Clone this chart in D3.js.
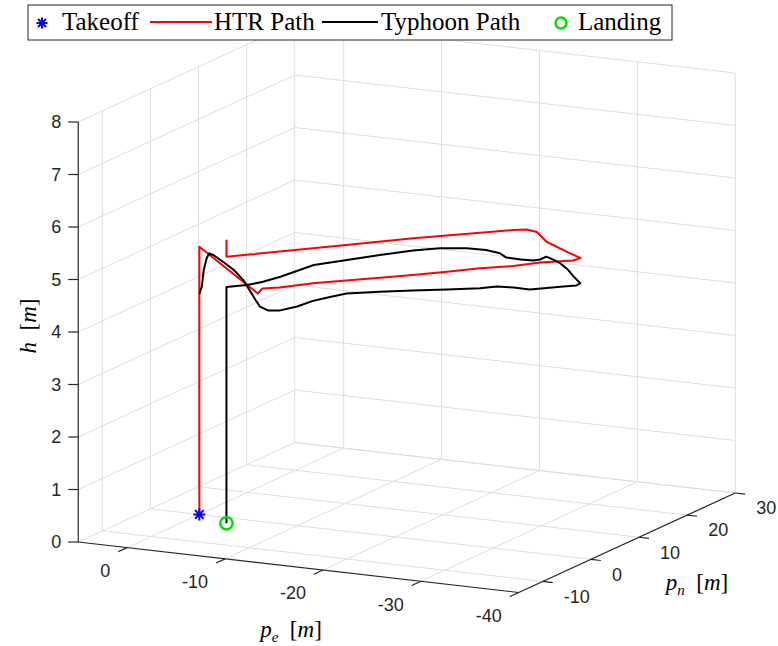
<!DOCTYPE html>
<html>
<head>
<meta charset="utf-8">
<script src="https://cdn.jsdelivr.net/npm/d3@7"></script>
<style>
  body { margin: 0; background: #fff; }
  .tick { font-family: "Liberation Sans", Arial, sans-serif; font-size: 18px; fill: #262626; }
  .tex { font-family: "Liberation Serif", "Times New Roman", serif; fill: #000; }
</style>
</head>
<body>
<div id="chart"></div>
<script>
// flight data, [p_e, p_n, h] in metres
var takeoffPoint = [0, 0, 0];
var landingPoint = [-3.8, -2.1, 0];

var htrPath = [
  [0, 0, 0], [0, 0, 5.1],
  [-13.1, -14.5, 5.1], [-12.6, -12.5, 5.1], [-13.8, -11.4, 5.1], [-15.8, -8.5, 5.1],
  [-18.0, -6.1, 5.1], [-20.3, -3.7, 5.1], [-22.5, -1.4, 5.1], [-24.7, 1.2, 5.1],
  [-26.8, 3.8, 5.1], [-29.1, 6.0, 5.1], [-30.7, 8.4, 5.1], [-33.0, 10.5, 5.1],
  [-33.2, 11.7, 5.1], [-31.5, 13.0, 5.1], [-27.5, 16.2, 5.1], [-25.0, 19.3, 5.1],
  [-23.7, 19.8, 5.1], [-22.7, 19.1, 5.1], [-20.5, 16.7, 5.1], [-16.0, 11.9, 5.1],
  [-11.7, 6.7, 5.1], [-8.4, 2.8, 5.1], [-5.3, -1.0, 5.1], [-4.0, -2.5, 5.1],
  [-3.9, -2.3, 5.4], [-3.95, -2.4, 5.1]
];

var typhoonPath = [
  [0, 0, 4.2], [-0.3, -0.1, 4.35], [-0.3, 0.3, 4.65], [-0.6, 0.3, 4.88],
  [-1.05, -0.1, 5.0], [-1.5, -0.15, 4.98], [-3.2, -1.6, 4.95], [-5.1, -3.2, 4.9],
  [-7.2, -5.5, 4.85], [-9.0, -7.9, 4.8], [-10.8, -10.3, 4.75], [-11.9, -11.6, 4.7],
  [-12.8, -11.7, 4.65], [-14.2, -12.1, 4.7], [-14.9, -10.0, 4.7], [-15.2, -7.3, 4.7],
  [-15.9, -5.2, 4.7], [-16.6, -3.2, 4.7], [-19.0, -1.2, 4.7], [-21.5, 0.6, 4.7],
  [-24.1, 2.4, 4.7], [-26.6, 4.2, 4.7], [-27.7, 5.5, 4.7], [-29.2, 5.9, 4.7],
  [-30.9, 5.8, 4.7], [-32.0, 7.1, 4.7], [-33.1, 8.3, 4.7], [-34.0, 9.2, 4.7],
  [-33.9, 10.2, 4.7], [-32.2, 12.3, 4.7], [-30.3, 14.8, 4.7], [-28.7, 16.6, 4.7],
  [-27.4, 17.7, 4.7], [-26.4, 18.4, 4.7], [-26.4, 17.1, 4.7], [-26.0, 16.5, 4.7],
  [-24.8, 16.3, 4.7], [-23.3, 16.4, 4.7], [-22.0, 17.7, 4.7], [-20.3, 18.3, 4.7],
  [-18.4, 18.1, 4.7], [-16.2, 17.0, 4.7], [-14.4, 15.1, 4.7], [-12.5, 12.1, 4.7],
  [-10.7, 8.9, 4.7], [-8.4, 6.7, 4.65], [-7.3, 2.0, 4.6], [-6.3, 0.4, 4.55],
  [-5.3, -0.9, 4.52], [-3.8, -2.1, 4.5], [-3.8, -2.1, 0]
];

var peTicks = [0, -10, -20, -30, -40];
var pnTicks = [-10, 0, 10, 20, 30];
var hTicks = [0, 1, 2, 3, 4, 5, 6, 7, 8];
var legendLabels = ["Takeoff", "HTR Path", "Typhoon Path", "Landing"];

var svgWidth = 778;
var svgHeight = 646;

var svg = d3.select("#chart")
  .append("svg")
  .attr("width", svgWidth)
  .attr("height", svgHeight)
  .style("background", "#fff");

// axis limits -> unit box
var peScale = d3.scaleLinear().domain([5, -40]).range([0, 1]);
var pnScale = d3.scaleLinear().domain([-15, 30]).range([0, 1]);
var hScale = d3.scaleLinear().domain([0, 8]).range([0, 1]);

// orthographic view: screen spot of the corner (5,-15,0) and of the three box edges
var corner = [78.25, 542];
var peEdge = [440.5, 50.5];
var pnEdge = [216.5, -99.5];
var hEdge = [0, -420];

function project(p) {
  var u = peScale(p[0]), v = pnScale(p[1]), w = hScale(p[2]);
  return [
    corner[0] + u * peEdge[0] + v * pnEdge[0] + w * hEdge[0],
    corner[1] + u * peEdge[1] + v * pnEdge[1] + w * hEdge[1]
  ];
}

var line3d = d3.line()
  .x(d => project(d)[0])
  .y(d => project(d)[1]);

// grid on the floor and the two back walls
var gridSegs = [];
peTicks.forEach(function(pe) {
  gridSegs.push([[pe, -15, 0], [pe, 30, 0]]);
  gridSegs.push([[pe, 30, 0], [pe, 30, 8]]);
});
pnTicks.forEach(function(pn) {
  gridSegs.push([[5, pn, 0], [-40, pn, 0]]);
  gridSegs.push([[5, pn, 0], [5, pn, 8]]);
});
hTicks.forEach(function(h) {
  gridSegs.push([[5, -15, h], [5, 30, h]]);
  gridSegs.push([[5, 30, h], [-40, 30, h]]);
});

svg.append("g")
  .selectAll("path")
  .data(gridSegs)
  .enter()
  .append("path")
  .attr("d", line3d)
  .attr("fill", "none")
  .attr("stroke", "#dedede")
  .attr("stroke-width", 1);

// axis lines
var axisSegs = [
  [[5, -15, 0], [-40, -15, 0]],
  [[-40, -15, 0], [-40, 30, 0]],
  [[5, -15, 0], [5, -15, 8]]
];
svg.append("g")
  .selectAll("path")
  .data(axisSegs)
  .enter()
  .append("path")
  .attr("d", line3d)
  .attr("fill", "none")
  .attr("stroke", "#262626")
  .attr("stroke-width", 1.2);

var axisG = svg.append("g");

// h ticks
hTicks.forEach(function(h) {
  var p = project([5, -15, h]);
  axisG.append("line")
    .attr("x1", p[0]).attr("y1", p[1])
    .attr("x2", p[0] - 10).attr("y2", p[1])
    .attr("stroke", "#262626").attr("stroke-width", 1.2);
  axisG.append("text")
    .attr("class", "tick")
    .attr("x", p[0] - 17)
    .attr("y", p[1])
    .attr("dy", "0.35em")
    .attr("text-anchor", "end")
    .text(h);
});

// p_e ticks point toward the viewer (-p_n)
var pnLen = Math.hypot(pnEdge[0], pnEdge[1]);
peTicks.forEach(function(pe) {
  var p = project([pe, -15, 0]);
  axisG.append("line")
    .attr("x1", p[0]).attr("y1", p[1])
    .attr("x2", p[0] - 10 * pnEdge[0] / pnLen).attr("y2", p[1] - 10 * pnEdge[1] / pnLen)
    .attr("stroke", "#262626").attr("stroke-width", 1.2);
  axisG.append("text")
    .attr("class", "tick")
    .attr("x", p[0] - 17)
    .attr("y", p[1] + 23)
    .attr("dy", "0.35em")
    .attr("text-anchor", "end")
    .text(pe);
});

// p_n ticks point outward (-p_e)
var peLen = Math.hypot(peEdge[0], peEdge[1]);
pnTicks.forEach(function(pn) {
  var p = project([-40, pn, 0]);
  axisG.append("line")
    .attr("x1", p[0]).attr("y1", p[1])
    .attr("x2", p[0] + 10 * peEdge[0] / peLen).attr("y2", p[1] + 10 * peEdge[1] / peLen)
    .attr("stroke", "#262626").attr("stroke-width", 1.2);
  axisG.append("text")
    .attr("class", "tick")
    .attr("x", p[0] + 21)
    .attr("y", p[1] + 15)
    .attr("dy", "0.35em")
    .attr("text-anchor", "start")
    .text(pn);
});

// axis labels (LaTeX style)
function texLabel(g, sub) {
  if (sub) {
    g.append("tspan").attr("font-style", "italic").text("p");
    g.append("tspan").attr("font-style", "italic").attr("font-size", "15px").attr("dy", 5).text(sub);
    g.append("tspan").attr("dy", -5).text("\u2002[");
  } else {
    g.append("tspan").attr("font-style", "italic").text("h");
    g.append("tspan").text("\u2002[");
  }
  g.append("tspan").attr("font-style", "italic").text("m");
  g.append("tspan").text("]");
}

var hLab = svg.append("text")
  .attr("class", "tex")
  .attr("font-size", "23px")
  .attr("text-anchor", "middle")
  .attr("transform", "translate(36, 326) rotate(-90)");
texLabel(hLab, null);

var peLab = svg.append("text")
  .attr("class", "tex")
  .attr("font-size", "23px")
  .attr("text-anchor", "middle")
  .attr("x", 291).attr("y", 637);
texLabel(peLab, "e");

var pnLab = svg.append("text")
  .attr("class", "tex")
  .attr("font-size", "23px")
  .attr("text-anchor", "middle")
  .attr("x", 697).attr("y", 590);
texLabel(pnLab, "n");

// flight paths
svg.append("path")
  .datum(htrPath)
  .attr("d", line3d)
  .attr("fill", "none")
  .attr("stroke", "#ff0000")
  .attr("stroke-width", 2)
  .attr("stroke-linejoin", "round");

svg.append("path")
  .datum(typhoonPath)
  .attr("d", line3d)
  .attr("fill", "none")
  .attr("stroke", "#000000")
  .attr("stroke-width", 2)
  .attr("stroke-linejoin", "round");

// markers
function starPath(r) {
  var d = r * 0.72;
  return "M" + (-r) + ",0H" + r + "M0," + (-r) + "V" + r +
    "M" + (-d) + "," + (-d) + "L" + d + "," + d +
    "M" + (-d) + "," + d + "L" + d + "," + (-d);
}

var tp = project(takeoffPoint);
svg.append("path")
  .attr("d", starPath(6))
  .attr("transform", "translate(" + tp[0] + "," + tp[1] + ")")
  .attr("fill", "none")
  .attr("stroke", "#0000ff")
  .attr("stroke-width", 2);

var lp = project(landingPoint);
svg.append("circle")
  .attr("cx", lp[0]).attr("cy", lp[1])
  .attr("r", 6.2)
  .attr("fill", "none")
  .attr("stroke", "#00e000")
  .attr("stroke-width", 2.5);

// legend
var legend = svg.append("g");
legend.append("rect")
  .attr("x", 28).attr("y", 5)
  .attr("width", 644).attr("height", 35)
  .attr("fill", "#fff")
  .attr("stroke", "#262626")
  .attr("stroke-width", 1);

legend.append("path")
  .attr("d", starPath(5.5))
  .attr("transform", "translate(42,23)")
  .attr("fill", "none")
  .attr("stroke", "#0000ff")
  .attr("stroke-width", 2);
legend.append("line").attr("x1", 150).attr("x2", 212).attr("y1", 22).attr("y2", 22)
  .attr("stroke", "#ff0000").attr("stroke-width", 2);
legend.append("line").attr("x1", 322).attr("x2", 378).attr("y1", 22).attr("y2", 22)
  .attr("stroke", "#000").attr("stroke-width", 2);
legend.append("circle").attr("cx", 561).attr("cy", 23).attr("r", 5.5)
  .attr("fill", "none").attr("stroke", "#00e000").attr("stroke-width", 2.5);

var legendX = [62, 214, 381, 578];
legend.selectAll("text.leg")
  .data(legendLabels)
  .enter()
  .append("text")
  .attr("class", "tex leg")
  .attr("font-size", "25px")
  .attr("x", (d, i) => legendX[i])
  .attr("y", 30)
  .text(d => d);
</script>
</body>
</html>
